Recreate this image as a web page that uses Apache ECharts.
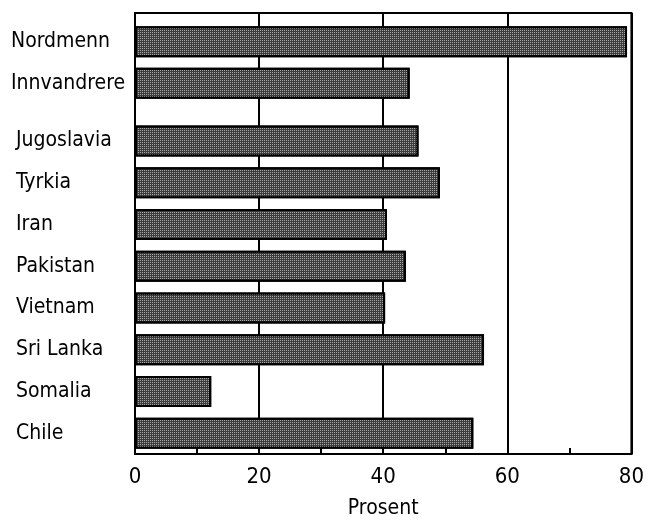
<!DOCTYPE html>
<html>
<head>
<meta charset="utf-8">
<script src="https://cdn.jsdelivr.net/npm/echarts@6/dist/echarts.min.js"></script>
<style>
  html, body { margin: 0; padding: 0; background: #fff; }
  #chart { width: 647px; height: 524px; }
</style>
</head>
<body>
<div id="chart"></div>
<script>
// Data
const groupCategories = ['Nordmenn', 'Innvandrere'];
const groupValues = [78.1, 43.6];
const countryCategories = ['Jugoslavia', 'Tyrkia', 'Iran', 'Pakistan', 'Vietnam', 'Sri Lanka', 'Somalia', 'Chile'];
const countryValues = [45.0, 48.4, 40.0, 43.0, 39.7, 55.4, 12.1, 53.7];
const xTicks = { min: 0, max: 80, interval: 20 };
const xAxisName = 'Prosent';

const FONT = '"DejaVu Sans Condensed", "Liberation Sans Narrow", "Liberation Sans", Arial, sans-serif';

const chart = echarts.init(document.getElementById('chart'), null, { renderer: 'canvas' });

const barStyle = {
  color: '#3c3c3c', borderColor: '#000', borderWidth: 2,
  decal: { symbol: 'rect', symbolSize: 1, color: 'rgba(255,255,255,0.55)', dashArrayX: [1, 1], dashArrayY: [1, 1], rotation: 0 }
};

const option = {
  backgroundColor: '#fff',
  animation: false,
  grid: [
    { left: 135, right: 8, top: 13, bottom: 63, show: true, borderColor: '#000', borderWidth: 2, backgroundColor: 'transparent' },
    { left: 135, right: 8, top: 21, height: 83 },
    { left: 135, right: 8, top: 120, height: 334 }
  ],
  xAxis: [
    {
      gridIndex: 0, type: 'value', min: xTicks.min, max: xTicks.max, interval: xTicks.interval,
      name: xAxisName, nameLocation: 'middle', nameGap: 44,
      nameTextStyle: { fontFamily: FONT, fontSize: 21, color: '#000' },
      axisLine: { show: true, lineStyle: { color: '#000', width: 2 } },
      axisTick: { show: true, inside: true, length: 6, lineStyle: { color: '#000', width: 2 } },
      minorTick: { show: true, splitNumber: 2, length: 6, lineStyle: { color: '#000', width: 2 } },
      axisLabel: { fontFamily: FONT, fontSize: 22, color: '#000', margin: 12 },
      splitLine: { show: true, lineStyle: { color: '#000', width: 2 } }
    },
    { gridIndex: 1, type: 'value', min: xTicks.min, max: xTicks.max, show: false },
    { gridIndex: 2, type: 'value', min: xTicks.min, max: xTicks.max, show: false }
  ],
  yAxis: [
    { gridIndex: 0, type: 'value', show: false, splitLine: { show: false } },
    {
      gridIndex: 1, type: 'category', data: groupCategories, inverse: true,
      axisLine: { show: false }, axisTick: { show: false },
      axisLabel: { fontFamily: FONT, fontSize: 21, color: '#000', align: 'left', margin: 124 }
    },
    {
      gridIndex: 2, type: 'category', data: countryCategories, inverse: true,
      axisLine: { show: false }, axisTick: { show: false },
      axisLabel: { fontFamily: FONT, fontSize: 21, color: '#000', align: 'left', margin: 119 }
    }
  ],
  series: [
    { type: 'bar', xAxisIndex: 1, yAxisIndex: 1, data: groupValues, barWidth: 31, itemStyle: barStyle },
    { type: 'bar', xAxisIndex: 2, yAxisIndex: 2, data: countryValues, barWidth: 31, itemStyle: barStyle }
  ]
};

chart.setOption(option);
</script>
</body>
</html>
